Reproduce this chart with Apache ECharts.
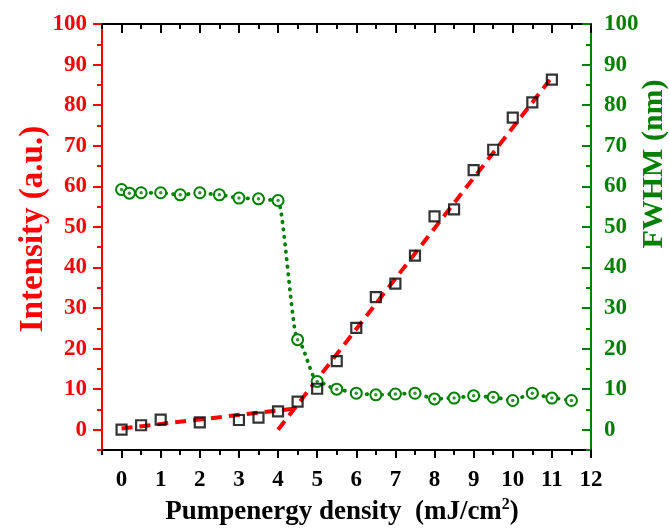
<!DOCTYPE html>
<html><head><meta charset="utf-8">
<script src="https://cdn.jsdelivr.net/npm/echarts@6/dist/echarts.min.js"></script>
<style>html,body{margin:0;padding:0;background:#fff}#c{width:670px;height:532px}</style>
</head><body><div id="c"></div>
<script>
// ---- data ----
const intensityX = [0,0.5,1,2,3,3.5,4,4.5,5,5.5,6,6.5,7,7.5,8,8.5,9,9.5,10,10.5,11];
const intensityY = [0,1.1,2.5,1.8,2.4,3.0,4.5,6.9,10.1,16.9,25.1,32.7,36.0,42.9,52.6,54.3,64.0,69.0,76.9,80.7,86.3];
const fwhmX = [0,0.2,0.5,1,1.5,2,2.5,3,3.5,4,4.5,5,5.5,6,6.5,7,7.5,8,8.5,9,9.5,10,10.5,11,11.5];
const fwhmY = [59.2,58.3,58.4,58.4,57.9,58.4,57.9,57.1,56.9,56.5,22.2,11.9,10.0,9.0,8.6,8.8,9.0,7.6,7.8,8.4,8.0,7.2,9.0,7.8,7.2];
const fitLowX = [0,4.4];
const fitLowY = [0.3,5.2];
const fitHighX = [4.0,11.05];
const fitHighY = [0,87.5];
const xTickValues = [0,1,2,3,4,5,6,7,8,9,10,11,12];
const yTickValues = [0,10,20,30,40,50,60,70,80,90,100];

const RED = '#ff0000', GREEN = '#008000', FONT = '"Liberation Serif", "Times New Roman", serif';
const zip = (a,b) => a.map((v,i) => [v, b[i]]);

const labelStyle = (color) => ({fontFamily: FONT, fontWeight: 'bold', fontSize: 23, color: color});
const noLine = {show:false, onZero:false};

const chart = echarts.init(document.getElementById('c'));
const G = {left: 102, right: 79, top: 24, bottom: 82, containLabel: false};
chart.setOption({
  animation: false,
  backgroundColor: '#fff',
  grid: [G, G],
  xAxis: [
    {type:'value', position:'bottom', min:-0.5, max:12, gridIndex:0,
     axisLine:{show:true, onZero:false, lineStyle:{color:'#000', width:2}},
     axisTick:{show:true, customValues: xTickValues, length:8, lineStyle:{color:'#000', width:2}},
     axisLabel:{show:true, customValues: xTickValues, margin:19, ...labelStyle('#000')},
     splitLine:{show:false}},
    {type:'value', position:'top', min:-0.5, max:12, gridIndex:0,
     axisLine:{show:true, onZero:false, lineStyle:{color:'#000', width:2}},
     axisTick:{show:true, inside:true, customValues: xTickValues, length:9, lineStyle:{color:'#000', width:2}},
     axisLabel:{show:false}, splitLine:{show:false}},
    {type:'value', position:'bottom', min:-0.5, max:12, interval:0.5, gridIndex:1,
     axisLine:noLine, axisLabel:{show:false}, splitLine:{show:false},
     axisTick:{show:true, length:5, lineStyle:{color:'#000', width:2}}},
    {type:'value', position:'top', min:-0.5, max:12, interval:0.5, gridIndex:1,
     axisLine:noLine, axisLabel:{show:false}, splitLine:{show:false},
     axisTick:{show:true, inside:true, length:5, lineStyle:{color:'#000', width:2}}}
  ],
  yAxis: [
    {type:'value', position:'left', min:-5, max:100, gridIndex:0,
     axisLine:{show:true, onZero:false, lineStyle:{color:RED, width:2}},
     axisTick:{show:true, customValues: yTickValues, length:9, lineStyle:{color:RED, width:2}},
     axisLabel:{show:true, customValues: yTickValues, margin:15, ...labelStyle(RED)},
     splitLine:{show:false}},
    {type:'value', position:'right', min:-5, max:100, gridIndex:0,
     axisLine:{show:true, onZero:false, lineStyle:{color:GREEN, width:2}},
     axisTick:{show:true, inside:true, customValues: yTickValues, length:9, lineStyle:{color:GREEN, width:2}},
     axisLabel:{show:true, customValues: yTickValues, margin:13, ...labelStyle(GREEN)},
     splitLine:{show:false}},
    {type:'value', position:'left', min:-5, max:100, interval:5, gridIndex:1,
     axisLine:noLine, axisLabel:{show:false}, splitLine:{show:false},
     axisTick:{show:true, length:5, lineStyle:{color:RED, width:2}}},
    {type:'value', position:'right', min:-5, max:100, interval:5, gridIndex:1,
     axisLine:noLine, axisLabel:{show:false}, splitLine:{show:false},
     axisTick:{show:true, inside:true, length:5, lineStyle:{color:GREEN, width:2}}}
  ],
  graphic: [
    {type:'text', x:33, y:229, rotation:Math.PI/2, z:100,
     style:{text:'Intensity (a.u.)', font:'bold 33px ' + FONT, fill:RED, align:'center', verticalAlign:'middle'}},
    {type:'text', x:654, y:164, rotation:Math.PI/2, z:100,
     style:{text:'FWHM (nm)', font:'bold 30px ' + FONT, fill:GREEN, align:'center', verticalAlign:'middle'}},
    {type:'text', x:342, y:512, z:100,
     style:{text:'Pumpenergy density  (mJ/cm{sup|2})', font:'bold 27px ' + FONT, fill:'#000',
            align:'center', verticalAlign:'middle',
            rich:{sup:{fontFamily:FONT, fontWeight:'bold', fontSize:16, fill:'#000', verticalAlign:'top', padding:[0,0,14,0]}}}}
  ],
  series: [
    {type:'line', name:'fitLow', xAxisIndex:0, yAxisIndex:0, data: zip(fitLowX, fitLowY),
     showSymbol:false, symbol:'none', lineStyle:{color:RED, width:4, type:[11,7]}, z:2},
    {type:'line', name:'fitHigh', xAxisIndex:0, yAxisIndex:0, data: zip(fitHighX, fitHighY),
     showSymbol:false, symbol:'none', lineStyle:{color:RED, width:4, type:[11,7]}, z:2},
    {type:'line', name:'FWHM', xAxisIndex:0, yAxisIndex:1, data: zip(fwhmX, fwhmY),
     smooth:0.25, smoothMonotone:'x',
     symbol:'emptyCircle', symbolSize:11, showSymbol:true,
     itemStyle:{color:GREEN, borderColor:GREEN, borderWidth:2.3},
     lineStyle:{color:GREEN, width:3.8, type:[0.5,7], cap:'round'}, z:3},
    {type:'scatter', name:'FWHMdot', xAxisIndex:0, yAxisIndex:1, data: zip(fwhmX, fwhmY),
     symbol:'circle', symbolSize:3.5, itemStyle:{color:GREEN}, z:4},
    {type:'scatter', name:'Intensity', xAxisIndex:0, yAxisIndex:0, data: zip(intensityX, intensityY),
     symbol:'rect', symbolSize:10, itemStyle:{color:'rgba(255,255,255,0)', borderColor:'#000', borderWidth:2.2}, z:5}
  ]
});
</script></body></html>
